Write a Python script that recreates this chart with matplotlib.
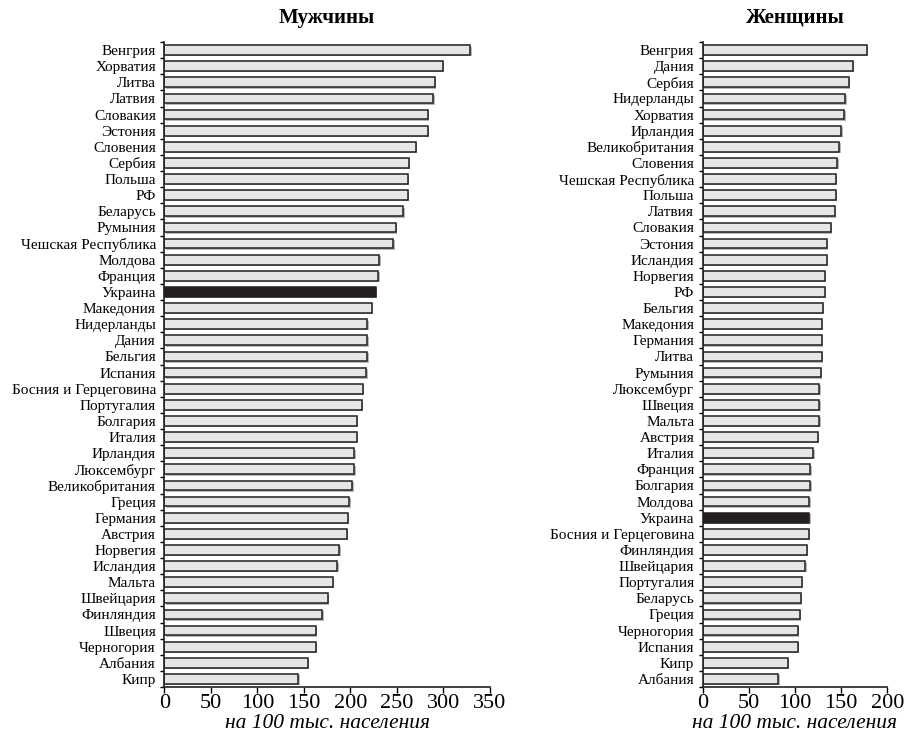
import matplotlib
matplotlib.use("Agg")
import matplotlib.pyplot as plt
import matplotlib.patheffects as pe
import numpy as np

plt.rcParams['font.family'] = ['Liberation Serif', 'DejaVu Serif']

men_countries = ["Венгрия", "Хорватия", "Литва", "Латвия", "Словакия", "Эстония", "Словения",
                 "Сербия", "Польша", "РФ", "Беларусь", "Румыния", "Чешская Республика", "Молдова",
                 "Франция", "Украина", "Македония", "Нидерланды", "Дания", "Бельгия", "Испания",
                 "Босния и Герцеговина", "Португалия", "Болгария", "Италия", "Ирландия",
                 "Люксембург", "Великобритания", "Греция", "Германия", "Австрия", "Норвегия",
                 "Исландия", "Мальта", "Швейцария", "Финляндия", "Швеция", "Черногория",
                 "Албания", "Кипр"]
men_values = [329, 299, 291, 289, 283, 283, 270, 263, 262, 262, 257, 249, 246, 231, 230, 227,
              223, 218, 218, 218, 217, 213, 212, 207, 207, 204, 204, 202, 199, 197, 196, 188,
              186, 181, 176, 170, 163, 163, 154, 144]

women_countries = ["Венгрия", "Дания", "Сербия", "Нидерланды", "Хорватия", "Ирландия",
                   "Великобритания", "Словения", "Чешская Республика", "Польша", "Латвия",
                   "Словакия", "Эстония", "Исландия", "Норвегия", "РФ", "Бельгия", "Македония",
                   "Германия", "Литва", "Румыния", "Люксембург", "Швеция", "Мальта", "Австрия",
                   "Италия", "Франция", "Болгария", "Молдова", "Украина", "Босния и Герцеговина",
                   "Финляндия", "Швейцария", "Португалия", "Беларусь", "Греция", "Черногория",
                   "Испания", "Кипр", "Албания"]
women_values = [178, 162.5, 158, 154.5, 153.5, 150, 148, 146, 144.5, 144.5, 143, 138.5, 134.5,
                134.5, 132, 132, 130, 129, 129, 129, 128, 126.5, 126.5, 126.5, 125, 120, 116.5,
                116.5, 115.5, 115.5, 115, 113, 111, 107.5, 106.5, 105.5, 103, 103, 92, 82]

highlight = "Украина"

fig = plt.figure(figsize=(9.08, 7.37), dpi=100)
ax1 = fig.add_axes([164.3/908, 1-687/737, (490-164.3)/908, (687-42)/737])
ax2 = fig.add_axes([702.7/908, 1-687/737, (887.3-702.7)/908, (687-42)/737])

def draw(ax, cats, vals, title, xmax, xticks):
    y = np.arange(len(cats))
    colors = ['#231f20' if c == highlight else '#e6e6e6' for c in cats]
    bars = ax.barh(y, vals, height=0.6, color=colors, edgecolor='#231f20', linewidth=1.1)
    for b in bars:
        b.set_path_effects([pe.SimplePatchShadow(offset=(1, -1), shadow_rgbFace='#888888', alpha=0.6),
                            pe.Normal()])
    ax.set_ylim(len(cats) - 0.5, -0.5)
    ax.set_xlim(0, xmax)
    ax.set_yticks(y)
    ax.set_yticklabels(cats, fontsize=11)
    ax.tick_params(axis='y', which='major', length=0, pad=6)
    ax.set_yticks(np.arange(len(cats) + 1) - 0.5, minor=True)
    ax.tick_params(axis='y', which='minor', length=3, width=1, direction='out')
    ax.set_xticks(xticks)
    ax.set_xticklabels([str(t) for t in xticks], fontsize=16)
    ax.tick_params(axis='x', length=4, width=1, direction='out', pad=1)
    for s in ['top', 'right']:
        ax.spines[s].set_visible(False)
    for s in ['left', 'bottom']:
        ax.spines[s].set_linewidth(1.2)
        ax.spines[s].set_color('#231f20')
    ax.set_xlabel('на 100 тыс. населения', fontsize=15.5, fontstyle='italic',
                  family='Liberation Serif', labelpad=1)
    ax.set_title(title, fontsize=15, fontweight='bold', pad=14)

draw(ax1, men_countries, men_values, 'Мужчины', 350, [0, 50, 100, 150, 200, 250, 300, 350])
draw(ax2, women_countries, women_values, 'Женщины', 200, [0, 50, 100, 150, 200])

fig.savefig('out.png', dpi=100, facecolor='white')
